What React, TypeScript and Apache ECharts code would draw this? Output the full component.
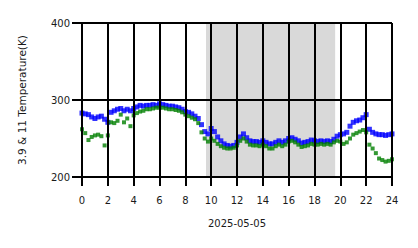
import React, { useEffect, useRef } from "react";
import * as echarts from "echarts";

const hours = [
  0, 0.25, 0.5, 0.75, 1, 1.25, 1.5, 1.75, 2, 2.25, 2.5, 2.75, 3, 3.25, 3.5, 3.75,
  4, 4.25, 4.5, 4.75, 5, 5.25, 5.5, 5.75, 6, 6.25, 6.5, 6.75, 7, 7.25, 7.5, 7.75,
  8, 8.25, 8.5, 8.75, 9, 9.25, 9.5, 9.75, 10, 10.25, 10.5, 10.75, 11, 11.25, 11.5, 11.75,
  12, 12.25, 12.5, 12.75, 13, 13.25, 13.5, 13.75, 14, 14.25, 14.5, 14.75, 15, 15.25, 15.5, 15.75,
  16, 16.25, 16.5, 16.75, 17, 17.25, 17.5, 17.75, 18, 18.25, 18.5, 18.75, 19, 19.25, 19.5, 19.75,
  20, 20.25, 20.5, 20.75, 21, 21.25, 21.5, 21.75, 22, 22.25, 22.5, 22.75, 23, 23.25, 23.5, 23.75, 24,
];

const temp39 = [
  283, 282, 281, 278, 276, 278, 279, 275, 271, 284, 286, 288, 289, 286, 288, 286,
  289, 291, 293, 292, 293, 293, 294, 293, 295, 294, 293, 292, 292, 291, 290, 288,
  285, 284, 282, 279, 276, 268, 259, 256, 263, 259, 252, 247, 243, 241, 240, 241,
  245, 252, 256, 251, 247, 246, 246, 245, 247, 245, 243, 243, 245, 247, 245, 247,
  250, 251, 249, 247, 244, 245, 246, 248, 247, 246, 247, 246, 247, 246, 249, 253,
  255, 256, 258, 266, 271, 273, 274, 277, 281, 262, 258, 256, 255, 255, 254, 255, 256,
];

const temp11 = [
  262, 257, 248, 252, 254, 255, 253, 241, 254, 271, 270, 273, 281, 271, 276, 266,
  280, 283, 285, 286, 288, 288, 289, 290, 290, 290, 289, 288, 288, 287, 286, 284,
  281, 279, 277, 275, 270, 258, 250, 246, 250, 247, 243, 240, 238, 237, 237, 238,
  241, 247, 250, 246, 242, 241, 241, 240, 242, 240, 237, 237, 240, 242, 240, 242,
  246, 247, 245, 242, 239, 240, 241, 243, 242, 242, 243, 242, 243, 242, 245, 247,
  246, 243, 245, 250, 255, 257, 259, 261, 258, 242, 237, 231, 224, 222, 220, 221, 223,
];

const nightStart = 9.6;
const nightEnd = 19.6;
const xTicks = [0, 24, 2];
const yTicks = [200, 400, 100];
const dateLabel = "2025-05-05";
const yName = "3.9 & 11 Temperature(K)";

export default function App() {
  const ref = useRef<HTMLDivElement>(null);
  useEffect(() => {
    if (!ref.current) return;
    const chart = echarts.init(ref.current, undefined, { renderer: "svg" });
    const font = "DejaVu Sans";
    const lineStyle = { color: "#000", width: 2 };
    chart.setOption({
      animation: false,
      backgroundColor: "#fff",
      grid: { left: 82, right: 26, top: 23, bottom: 71 },
      xAxis: {
        type: "value",
        min: xTicks[0],
        max: xTicks[1],
        interval: xTicks[2],
        z: 10,
        axisLine: { show: false },
        axisTick: { show: true, length: 9, lineStyle },
        splitLine: { show: true, lineStyle },
        axisLabel: { fontSize: 10, color: "#1a1a1a", fontFamily: font, margin: 18 },
        name: dateLabel,
        nameLocation: "middle",
        nameGap: 41,
        nameTextStyle: { fontSize: 10, color: "#1a1a1a", fontFamily: font },
      },
      yAxis: {
        type: "value",
        min: yTicks[0],
        max: yTicks[1],
        interval: yTicks[2],
        z: 10,
        axisLine: { show: false },
        axisTick: { show: true, length: 10, lineStyle },
        splitLine: { show: true, lineStyle },
        axisLabel: { fontSize: 10, color: "#1a1a1a", fontFamily: font, margin: 12 },
        name: yName,
        nameLocation: "middle",
        nameRotate: 90,
        nameGap: 55,
        nameTextStyle: { fontSize: 10.5, color: "#1a1a1a", fontFamily: font },
      },
      series: [
        {
          type: "scatter",
          symbol: "rect",
          symbolSize: 5,
          itemStyle: { color: "#0000ff" },
          data: hours.map((h, i) => [h, temp39[i]]),
          markArea: {
            silent: true,
            itemStyle: { color: "#d9d9d9" },
            data: [[{ xAxis: nightStart }, { xAxis: nightEnd }]],
          },
        },
        {
          type: "scatter",
          symbol: "rect",
          symbolSize: 4,
          itemStyle: { color: "#008000" },
          data: hours.map((h, i) => [h, temp11[i]]),
        },
      ],
    });
    return () => chart.dispose();
  }, []);
  return <div ref={ref} style={{ width: 418, height: 248, position: "absolute", left: 0, top: 0 }} />;
}
